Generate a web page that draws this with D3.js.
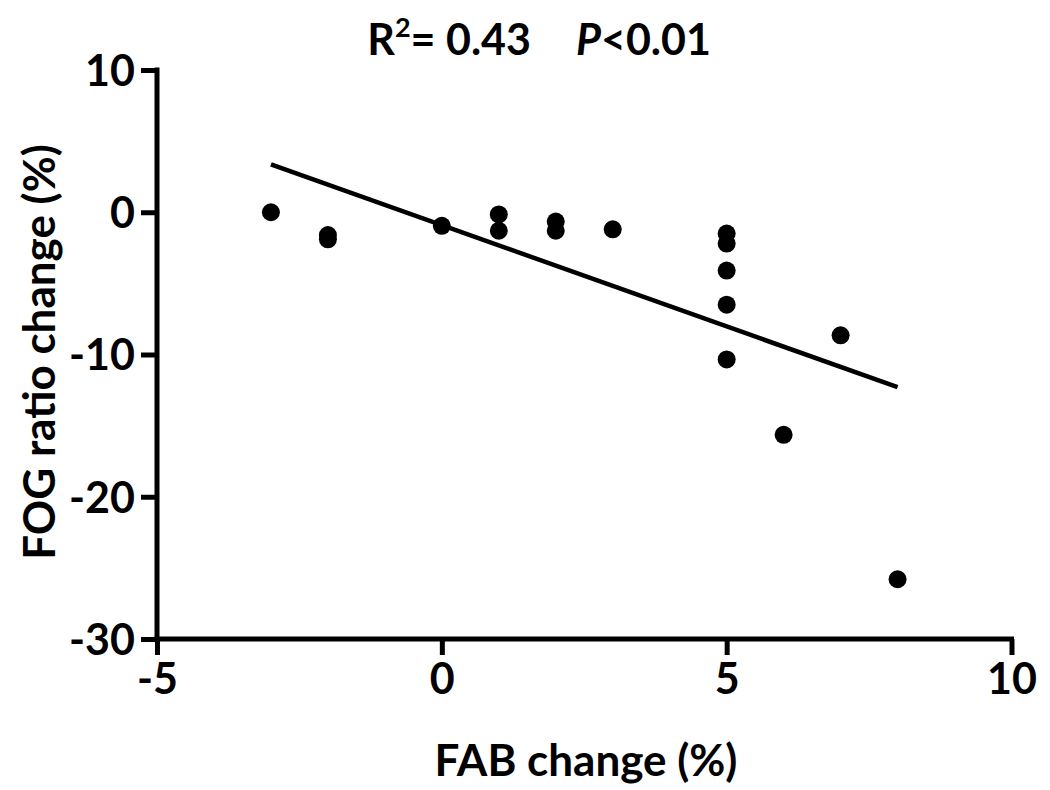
<!DOCTYPE html>
<html>
<head>
<meta charset="utf-8">
<script src="https://cdn.jsdelivr.net/npm/d3@7"></script>
<style>
  html, body { margin: 0; padding: 0; background: #fff; }
  svg { display: block; }
  text { font-family: Lato, "Open Sans", sans-serif; fill: #000; font-weight: bold; }
</style>
</head>
<body>
<svg id="chart" width="1050" height="790"></svg>
<script>
// Data
const fabChange = [-3, -2, -2, 0, 1, 1, 2, 2, 3, 5, 5, 5, 5, 5, 6, 7, 8];
const fogChange = [0, -1.6, -1.9, -0.95, -0.15, -1.3, -0.65, -1.3, -1.2, -1.5, -2.2, -4.1, -6.5, -10.35, -15.65, -8.65, -25.8];
const fitX = [-3, 8];
const fitY = [3.37, -12.3];
const xTicks = [-5, 0, 5, 10];
const yTicks = [10, 0, -10, -20, -30];
const xTitle = "FAB change (%)";
const yTitle = "FOG ratio change (%)";

const svg = d3.select("#chart");
const x = d3.scaleLinear().domain([-5, 10]).range([157, 1011.5]);
const y = d3.scaleLinear().domain([-30, 10]).range([639, 70]);

const fmt = d => String(d); // hyphen-minus as in the reference

const xAxis = d3.axisBottom(x).tickValues(xTicks).tickSize(16).tickSizeOuter(0).tickPadding(8).tickFormat(fmt);
const yAxis = d3.axisLeft(y).tickValues(yTicks).tickSize(16).tickSizeOuter(0).tickPadding(6).tickFormat(fmt);

const gx = svg.append("g").attr("transform", `translate(0,${y(-30)})`).call(xAxis);
const gy = svg.append("g").attr("transform", `translate(${x(-5)},0)`).call(yAxis);

[gx, gy].forEach(g => {
  g.select(".domain").attr("stroke", "#000").attr("stroke-width", 5);
  g.selectAll(".tick line").attr("stroke", "#000").attr("stroke-width", 5);
  g.selectAll(".tick text").attr("font-size", 43).attr("font-family", "Lato").attr("font-weight", "bold").attr("fill", "#000");
});
gx.select(".domain").attr("d", `M${x(-5)-2.5},0H${x(10)+2.5}`);
gy.select(".domain").attr("d", `M0,${y(10)-2.5}V${y(-30)+2.5}`);
gy.selectAll(".tick text").attr("dy", "0.36em");

// regression line
svg.append("line")
  .attr("x1", x(fitX[0])).attr("y1", y(fitY[0]))
  .attr("x2", x(fitX[1])).attr("y2", y(fitY[1]))
  .attr("stroke", "#000").attr("stroke-width", 4.5);

// points
svg.append("g").selectAll("circle")
  .data(fabChange.map((d, i) => [d, fogChange[i]]))
  .join("circle")
  .attr("cx", d => x(d[0])).attr("cy", d => y(d[1]))
  .attr("r", 9).attr("fill", "#000");

// axis titles
svg.append("text").attr("x", 586).attr("y", 776).attr("text-anchor", "middle")
  .attr("font-size", 44).text(xTitle);
svg.append("text").attr("transform", "translate(55,352) rotate(-90)").attr("text-anchor", "middle")
  .attr("font-size", 44).text(yTitle);

// stats title
const t1 = svg.append("text").attr("x", 531).attr("y", 55).attr("text-anchor", "end").attr("font-size", 43);
t1.append("tspan").text("R");
t1.append("tspan").attr("font-size", 27).attr("dy", -18).text("2");
t1.append("tspan").attr("dy", 18).text("= 0.43");
const t2 = svg.append("text").attr("x", 576).attr("y", 55).attr("text-anchor", "start").attr("font-size", 43);
t2.append("tspan").attr("font-style", "italic").text("P");
t2.append("tspan").text("<0.01");
</script>
</body>
</html>
